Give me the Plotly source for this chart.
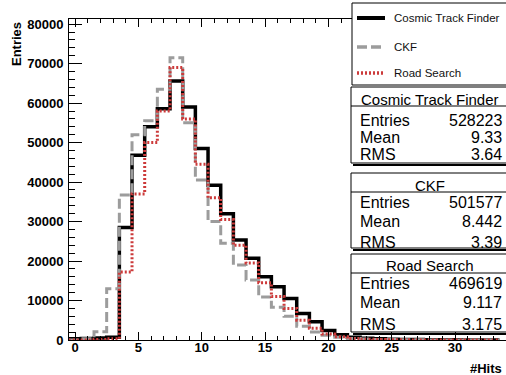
import plotly.graph_objects as go

# ---------------- data ----------------
bins = list(range(0, 34))
ctf = [300, 400, 500, 700, 28500, 46800, 54000, 58600, 65600, 59000, 48500, 39200,
       32000, 25300, 20700, 16000, 13500, 10500, 6700, 4600, 2400, 1300, 700, 450,
       300, 200, 150, 100, 80, 60, 40, 30, 20, 10]
ckf = [0, 300, 2100, 13000, 36700, 52000, 55500, 63500, 71500, 55000, 40500, 30000,
       24500, 19000, 15200, 10900, 8300, 6000, 3500, 2000, 1200, 700, 400, 250,
       150, 100, 60, 40, 30, 20, 10, 10, 0, 0]
rs = [0, 0, 100, 300, 17200, 37000, 50000, 58000, 69000, 56000, 44500, 36000,
      30500, 24000, 19500, 14500, 11000, 8000, 5000, 3000, 1500, 800, 400, 200,
      100, 60, 40, 20, 10, 10, 0, 0, 0, 0]

series_names = ["Cosmic Track Finder", "CKF", "Road Search"]
stat_entries = ["528223", "501577", "469619"]
stat_means = ["9.33", "8.442", "9.117"]
stat_rms = ["3.64", "3.39", "3.175"]

x_tick_vals = [0, 5, 10, 15, 20, 25, 30]
y_tick_vals = [0, 10000, 20000, 30000, 40000, 50000, 60000, 70000, 80000]

# ---------------- layout helpers ----------------
W, H = 506, 375
ML, MR, MT, MB = 69, 0, 19, 35
PW = W - ML - MR
PH = H - MT - MB


def px(x):
    return (x - ML) / PW


def py(y):
    return (H - MB - y) / PH


FONT = "Liberation Sans, Arial, Helvetica, sans-serif"
colors = ["#000000", "#9c9c9c", "#cc3a3a"]
dashes = ["solid", "10px,4px", "2px,2px"]
widths = [3.5, 3, 3]

fig = go.Figure()

edges = [b - 0.5 for b in bins] + [bins[-1] + 0.5]
for name, vals, c, d, w in zip(series_names, [ctf, ckf, rs], colors, dashes, widths):
    fig.add_trace(go.Scatter(
        x=edges, y=list(vals) + [vals[-1]], mode="lines", name=name,
        line=dict(color=c, width=w, dash=d, shape="hv"), showlegend=False,
        hoverinfo="skip"))

shapes = []
annotations = []

# legend box
shapes.append(dict(type="rect", xref="paper", yref="paper",
                   x0=px(352), x1=px(515), y0=py(85), y1=py(3),
                   line=dict(color="black", width=1), fillcolor="white", layer="above"))
leg_y = [18, 47, 73]
for name, c, d, w, yy in zip(series_names, colors, dashes, widths, leg_y):
    shapes.append(dict(type="line", xref="paper", yref="paper",
                       x0=px(357), x1=px(385), y0=py(yy), y1=py(yy),
                       line=dict(color=c, width=w + 0.5, dash=d), layer="above"))
    annotations.append(dict(text=name, xref="paper", yref="paper", x=px(392), y=py(yy),
                            xanchor="left", yanchor="middle", showarrow=False,
                            font=dict(family=FONT, size=11.5, color="#111")))

# stats boxes
boxes = [(87, 106, 163), (173, 192, 248), (254, 273, 332)]
title_y = [99.5, 185, 265]
row_y = [[120, 137, 154], [202.5, 221, 242], [283.5, 302.5, 324]]
for i, (top, tl, bot) in enumerate(boxes):
    shapes.append(dict(type="rect", xref="paper", yref="paper",
                       x0=px(351), x1=px(515), y0=py(bot), y1=py(top),
                       line=dict(color="black", width=1), fillcolor="white", layer="above"))
    shapes.append(dict(type="line", xref="paper", yref="paper",
                       x0=px(353), x1=px(515), y0=py(bot + 2), y1=py(bot + 2),
                       line=dict(color="black", width=2), layer="above"))
    shapes.append(dict(type="line", xref="paper", yref="paper",
                       x0=px(351), x1=px(515), y0=py(tl), y1=py(tl),
                       line=dict(color="black", width=1), layer="above"))
    annotations.append(dict(text=series_names[i], xref="paper", yref="paper",
                            x=px(430), y=py(title_y[i]), xanchor="center", yanchor="middle",
                            showarrow=False, font=dict(family=FONT, size=15, color="black")))
    for lab, val, yy in zip(["Entries", "Mean", "RMS"],
                            [stat_entries[i], stat_means[i], stat_rms[i]], row_y[i]):
        annotations.append(dict(text=lab, xref="paper", yref="paper", x=px(358), y=py(yy),
                                xanchor="left", yanchor="middle", showarrow=False,
                                font=dict(family=FONT, size=16, color="black")))
        annotations.append(dict(text=val, xref="paper", yref="paper", x=px(504), y=py(yy),
                                xanchor="right", yanchor="middle", showarrow=False,
                                font=dict(family=FONT, size=16, color="black")))

# axis titles
annotations.append(dict(text="<b>Entries</b>", xref="paper", yref="paper", x=px(16), y=py(44),
                        xanchor="center", yanchor="middle", textangle=-90, showarrow=False,
                        font=dict(family=FONT, size=13, color="black")))
annotations.append(dict(text="<b>#Hits</b>", xref="paper", yref="paper", x=px(504), y=py(368),
                        xanchor="right", yanchor="middle", showarrow=False,
                        font=dict(family=FONT, size=13, color="black")))

fig.update_layout(
    width=W, height=H, margin=dict(l=ML, r=MR, t=MT, b=MB, pad=0),
    paper_bgcolor="white", plot_bgcolor="white",
    shapes=shapes, annotations=annotations, showlegend=False,
    xaxis=dict(range=[(ML - 75) / 12.67, (W - 75) / 12.67], showgrid=False, zeroline=False,
               showline=True, linecolor="black", linewidth=1, mirror="allticks",
               ticks="inside", ticklen=8, tickwidth=1, tickcolor="black",
               tickvals=x_tick_vals, ticktext=[str(v) for v in x_tick_vals],
               tickfont=dict(family=FONT, size=13, color="black", weight="bold"),
               minor=dict(ticks="inside", ticklen=4, dtick=1, tickcolor="black", tick0=0),
               ticklabelstandoff=-5),
    yaxis=dict(range=[0, 81300], showgrid=False, zeroline=False,
               showline=True, linecolor="black", linewidth=1, mirror=False,
               ticks="inside", ticklen=13, tickwidth=1, tickcolor="black",
               tickvals=y_tick_vals, ticktext=[str(v) for v in y_tick_vals],
               tickfont=dict(family=FONT, size=13, color="black", weight="bold"),
               minor=dict(ticks="inside", ticklen=6, dtick=2000, tickcolor="black", tick0=0),
               ticklabelstandoff=2),
)

fig.write_html("out.html")
